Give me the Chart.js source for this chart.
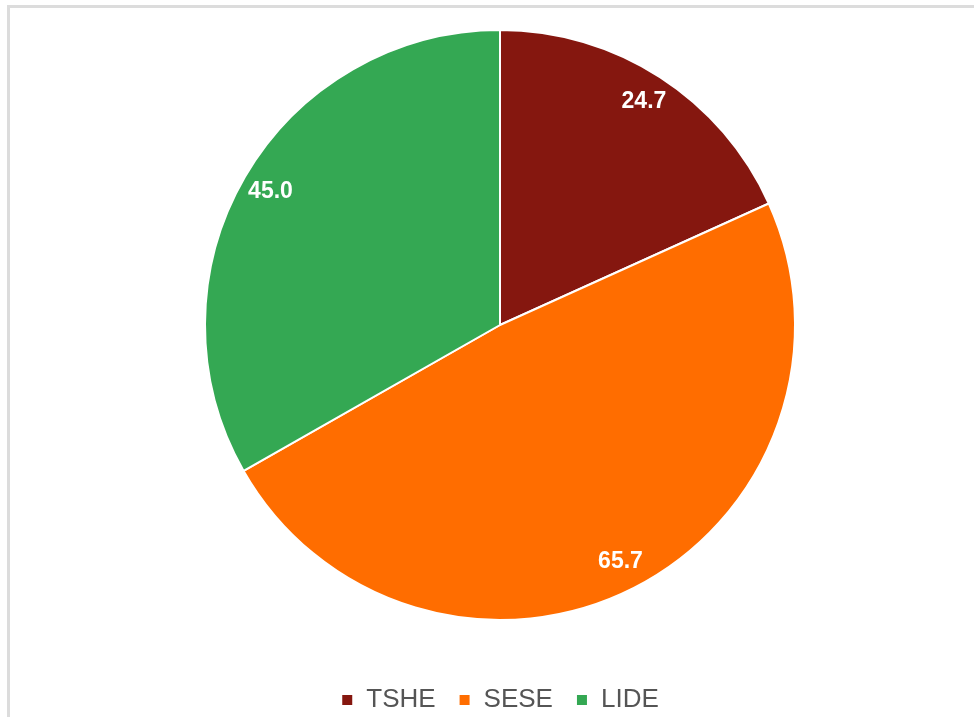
<!DOCTYPE html>
<html>
<head>
<meta charset="utf-8">
<script src="https://cdn.jsdelivr.net/npm/chart.js@4/dist/chart.umd.min.js"></script>
<style>
  html, body { margin: 0; padding: 0; background: #fff; overflow: hidden; width: 974px; height: 717px; }
  #wrap { position: absolute; left: 0; top: 0; width: 974px; height: 723px; }
  #frame { position: absolute; left: 7px; top: 5px; right: 0; bottom: 0;
           border-top: 3px solid #dcdcdc; border-left: 3px solid #dcdcdc; pointer-events: none; }
</style>
</head>
<body>
<div id="wrap"><canvas id="c" width="974" height="723"></canvas></div>
<div id="frame"></div>
<script>
const categories = ['TSHE', 'SESE', 'LIDE'];
const values = [24.7, 65.7, 45.0];
const sliceColors = ['#85170f', '#ff6d00', '#34a853'];

// Writes each slice's value inside the slice, near its outer edge.
const sliceValueLabels = {
  id: 'sliceValueLabels',
  afterDatasetsDraw(chart) {
    const ctx = chart.ctx;
    const meta = chart.getDatasetMeta(0);
    ctx.save();
    ctx.fillStyle = '#ffffff';
    ctx.font = 'bold 23px "Liberation Sans", Arial, sans-serif';
    ctx.textAlign = 'center';
    ctx.textBaseline = 'middle';
    meta.data.forEach((arc, i) => {
      const p = arc.getProps(['x', 'y', 'startAngle', 'endAngle', 'outerRadius'], true);
      const mid = (p.startAngle + p.endAngle) / 2;
      const r = p.outerRadius * 0.9;
      ctx.fillText(values[i].toFixed(1), p.x + Math.cos(mid) * r, p.y + Math.sin(mid) * r);
    });
    ctx.restore();
  }
};

new Chart(document.getElementById('c'), {
  type: 'pie',
  data: {
    labels: categories,
    datasets: [{
      data: values,
      backgroundColor: sliceColors,
      borderColor: '#ffffff',
      borderWidth: 2
    }]
  },
  options: {
    responsive: false,
    animation: false,
    layout: { padding: { top: 29, left: 26, right: 0, bottom: 0 } },
    plugins: {
      tooltip: { enabled: false },
      legend: {
        position: 'bottom',
        title: { display: true, text: ' ', font: { size: 10 }, padding: { top: 31, bottom: 0 } },
        labels: {
          boxWidth: 12,
          boxHeight: 12,
          padding: 23,
          color: '#555555',
          font: { size: 26, family: '"Liberation Sans", Arial, sans-serif' }
        }
      }
    }
  },
  plugins: [sliceValueLabels]
});
</script>
</body>
</html>
